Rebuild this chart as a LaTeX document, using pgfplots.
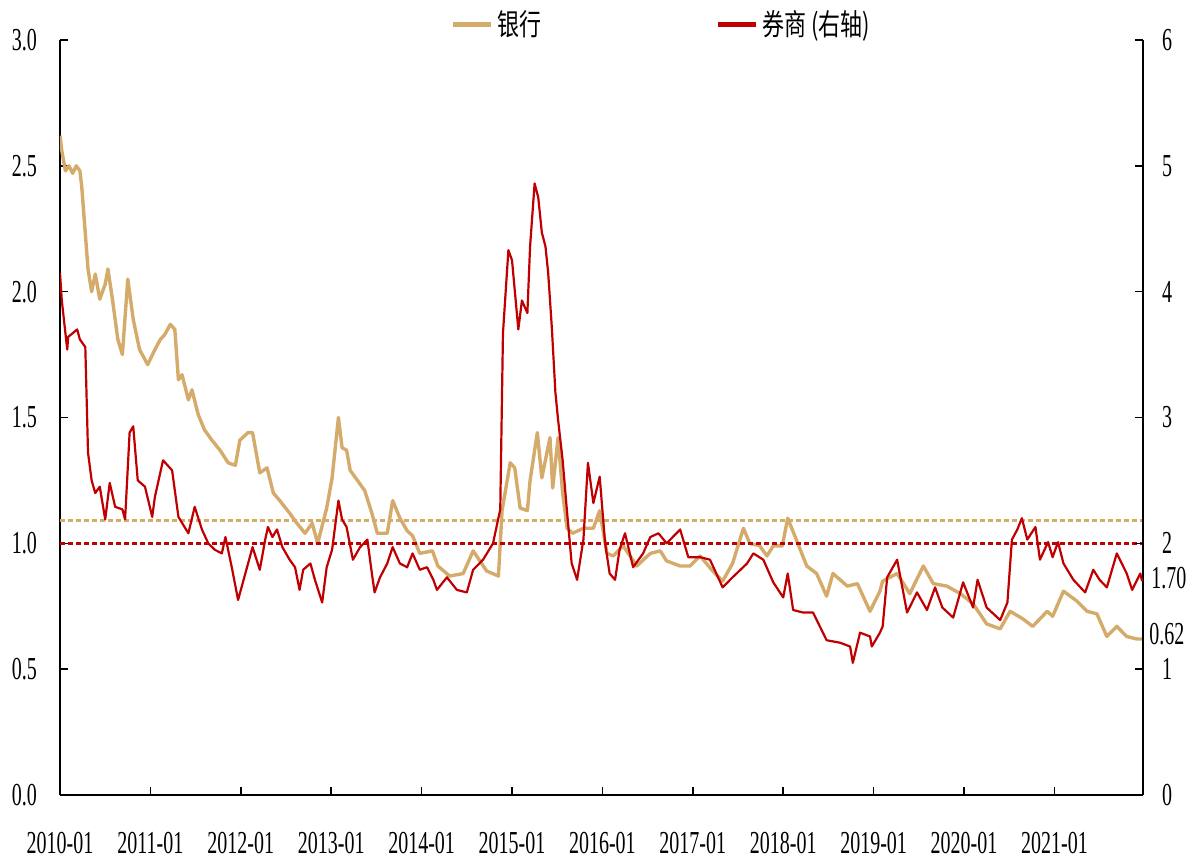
\documentclass[border=0pt]{standalone}
\usepackage{fontspec}
\setmainfont{Liberation Serif}
\newfontfamily\cjk{Noto Sans CJK SC}
\usepackage{graphicx}
\usepackage{pgfplots}
\pgfplotsset{compat=1.18}
\definecolor{tanc}{RGB}{213,171,108}
\definecolor{dred}{RGB}{192,0,0}

\pgfplotstableread{
x y
2010.00 2.62
2010.02 2.56
2010.06 2.48
2010.10 2.50
2010.14 2.47
2010.18 2.50
2010.22 2.48
2010.24 2.42
2010.31 2.09
2010.35 2.00
2010.39 2.07
2010.44 1.97
2010.50 2.03
2010.53 2.09
2010.58 1.97
2010.64 1.81
2010.69 1.75
2010.75 2.05
2010.81 1.89
2010.88 1.77
2010.97 1.71
2011.05 1.77
2011.11 1.81
2011.16 1.83
2011.22 1.87
2011.27 1.85
2011.31 1.65
2011.35 1.67
2011.42 1.57
2011.46 1.61
2011.53 1.51
2011.60 1.45
2011.68 1.41
2011.77 1.37
2011.86 1.32
2011.94 1.31
2011.99 1.41
2012.08 1.44
2012.13 1.44
2012.21 1.28
2012.29 1.30
2012.36 1.20
2012.43 1.17
2012.54 1.12
2012.62 1.08
2012.71 1.04
2012.79 1.08
2012.85 1.00
2012.95 1.14
2013.01 1.26
2013.08 1.50
2013.12 1.38
2013.17 1.37
2013.21 1.29
2013.29 1.25
2013.37 1.21
2013.45 1.12
2013.51 1.04
2013.62 1.04
2013.68 1.17
2013.76 1.10
2013.84 1.05
2013.90 1.03
2013.98 0.96
2014.12 0.97
2014.18 0.91
2014.31 0.87
2014.46 0.88
2014.57 0.97
2014.72 0.89
2014.85 0.87
2014.89 1.13
2014.98 1.32
2015.03 1.30
2015.09 1.14
2015.17 1.13
2015.20 1.25
2015.28 1.44
2015.33 1.26
2015.42 1.42
2015.45 1.22
2015.51 1.42
2015.56 1.20
2015.61 1.06
2015.67 1.04
2015.79 1.06
2015.90 1.06
2015.97 1.13
2016.05 0.96
2016.12 0.95
2016.23 0.99
2016.38 0.91
2016.53 0.96
2016.64 0.97
2016.71 0.93
2016.86 0.91
2016.97 0.91
2017.08 0.95
2017.22 0.89
2017.33 0.85
2017.44 0.92
2017.56 1.06
2017.63 1.00
2017.74 0.99
2017.82 0.95
2017.89 0.99
2017.99 0.99
2018.05 1.10
2018.15 1.01
2018.26 0.91
2018.37 0.88
2018.48 0.79
2018.55 0.88
2018.71 0.83
2018.82 0.84
2018.96 0.73
2019.07 0.81
2019.10 0.85
2019.26 0.88
2019.40 0.80
2019.55 0.91
2019.66 0.84
2019.81 0.83
2019.96 0.80
2020.10 0.76
2020.25 0.68
2020.40 0.66
2020.51 0.73
2020.65 0.70
2020.76 0.67
2020.92 0.73
2020.98 0.71
2021.10 0.81
2021.25 0.77
2021.36 0.73
2021.47 0.72
2021.58 0.63
2021.69 0.67
2021.80 0.63
2021.91 0.62
2021.97 0.62
}\banks

\pgfplotstableread{
x y
2010.00 4.15
2010.02 3.93
2010.08 3.54
2010.09 3.64
2010.19 3.70
2010.22 3.62
2010.28 3.56
2010.31 2.72
2010.35 2.50
2010.39 2.40
2010.44 2.45
2010.50 2.19
2010.55 2.48
2010.61 2.29
2010.69 2.27
2010.72 2.19
2010.77 2.88
2010.81 2.93
2010.86 2.50
2010.94 2.45
2011.02 2.21
2011.05 2.37
2011.14 2.66
2011.24 2.58
2011.31 2.21
2011.42 2.08
2011.49 2.29
2011.57 2.11
2011.64 2.00
2011.71 1.95
2011.79 1.92
2011.83 2.05
2011.90 1.81
2011.97 1.55
2012.05 1.76
2012.13 1.97
2012.21 1.79
2012.27 2.03
2012.30 2.13
2012.35 2.05
2012.40 2.11
2012.46 1.97
2012.54 1.87
2012.60 1.81
2012.65 1.63
2012.69 1.79
2012.77 1.84
2012.82 1.71
2012.90 1.53
2012.95 1.81
2013.01 1.95
2013.08 2.34
2013.12 2.19
2013.17 2.13
2013.24 1.87
2013.32 1.97
2013.40 2.03
2013.45 1.76
2013.48 1.61
2013.54 1.73
2013.62 1.84
2013.68 1.97
2013.76 1.84
2013.84 1.81
2013.90 1.92
2013.98 1.79
2014.06 1.81
2014.13 1.71
2014.17 1.63
2014.28 1.73
2014.39 1.63
2014.50 1.61
2014.57 1.79
2014.68 1.87
2014.79 2.00
2014.87 2.27
2014.90 3.67
2014.96 4.33
2015.00 4.25
2015.07 3.70
2015.11 3.93
2015.17 3.83
2015.20 4.36
2015.25 4.86
2015.29 4.75
2015.33 4.47
2015.37 4.36
2015.40 4.15
2015.44 3.72
2015.48 3.20
2015.51 2.98
2015.56 2.66
2015.61 2.24
2015.66 1.84
2015.72 1.71
2015.79 2.03
2015.84 2.64
2015.90 2.32
2015.97 2.53
2016.03 2.00
2016.08 1.76
2016.14 1.71
2016.19 1.95
2016.25 2.08
2016.34 1.81
2016.45 1.92
2016.53 2.05
2016.62 2.08
2016.71 2.00
2016.86 2.11
2016.95 1.89
2017.08 1.89
2017.19 1.87
2017.33 1.65
2017.44 1.73
2017.60 1.84
2017.67 1.92
2017.78 1.87
2017.89 1.69
2018.00 1.57
2018.05 1.76
2018.11 1.47
2018.22 1.45
2018.33 1.45
2018.48 1.23
2018.63 1.21
2018.74 1.18
2018.77 1.05
2018.85 1.29
2018.96 1.26
2018.98 1.18
2019.07 1.29
2019.10 1.34
2019.15 1.73
2019.26 1.87
2019.37 1.45
2019.48 1.61
2019.59 1.47
2019.68 1.65
2019.76 1.49
2019.88 1.41
2019.99 1.69
2020.10 1.49
2020.15 1.71
2020.25 1.49
2020.40 1.39
2020.48 1.53
2020.53 2.03
2020.59 2.11
2020.64 2.20
2020.70 2.03
2020.79 2.13
2020.84 1.87
2020.93 2.01
2020.98 1.89
2021.04 2.01
2021.10 1.84
2021.21 1.71
2021.34 1.61
2021.43 1.79
2021.50 1.71
2021.58 1.65
2021.69 1.92
2021.80 1.76
2021.86 1.63
2021.95 1.76
2021.97 1.70
}\brokers

\pgfplotsset{
  common/.style={
    scale only axis, width=541.5bp, height=377.5bp,
    at={(0,0)}, anchor=south west,
    xmin=2010, xmax=2021.98,
    clip mode=individual,
    axis line style={line width=1bp,-,black},
    tick align=inside, major tick length=4bp,
    tick style={line width=0.8bp,black},
    /pgf/number format/assume math mode=true,
    ticklabel style={font=\fontsize{10bp}{12bp}\selectfont, yscale=1.6},
  }
}

\begin{document}
\begin{tikzpicture}
\path[use as bounding box] (-30bp,-34bp) rectangle (569bp,397.5bp);
\begin{axis}[common,
  ymin=0, ymax=3,
  axis x line*=bottom, axis y line*=left,
  xtick={2010,2011,2012,2013,2014,2015,2016,2017,2018,2019,2020,2021},
  xticklabels={2010-01,2011-01,2012-01,2013-01,2014-01,2015-01,2016-01,2017-01,2018-01,2019-01,2020-01,2021-01},
  xticklabel style={yshift=-8bp},
  ytick={0,0.5,1,1.5,2,2.5,3},
  yticklabel style={/pgf/number format/.cd, fixed, fixed zerofill, precision=1, /tikz/.cd, xshift=-8bp},
]
\addplot[tanc, line width=1.7bp, line join=round] table[x=x,y=y] {\banks};
\addplot[tanc, line width=1.5bp, dash pattern=on 2.5bp off 1.5bp] coordinates {(2010,1.09) (2021.98,1.09)};
\addplot[dred, line width=1.5bp, dash pattern=on 2.5bp off 1.5bp] coordinates {(2010,1.0) (2021.98,1.0)};
\end{axis}
\begin{axis}[common,
  ymin=0, ymax=6,
  axis x line=none, axis y line*=right,
  ytick={0,1,2,3,4,5,6},
  yticklabel style={xshift=6bp},
  legend style={at={(0.556,1.02)}, anchor=center, draw=none, fill=none,
    font=\cjk\fontsize{11bp}{13bp}\selectfont,
    /tikz/every even column/.append style={column sep=85bp}},
  legend columns=2,
  legend image code/.code={\draw[#1, line width=2.5bp] (0bp,0bp) -- (19bp,0bp);},
]
\addlegendimage{tanc}
\addlegendentry{\scalebox{1}[1.35]{银行}}
\addplot[dred, line width=1.1bp, line join=round] table[x=x,y=y] {\brokers};
\addlegendentry{\scalebox{1}[1.35]{券商 (右轴)}}
\node[anchor=west, font=\fontsize{10bp}{12bp}\selectfont, yscale=1.6, inner sep=0pt] at (axis cs:2021.98,1.72) [xshift=4bp] {1.70};
\node[anchor=west, font=\fontsize{10bp}{12bp}\selectfont, yscale=1.6, inner sep=0pt] at (axis cs:2021.98,1.28) [xshift=3bp] {0.62};
\end{axis}
\end{tikzpicture}
\end{document}
